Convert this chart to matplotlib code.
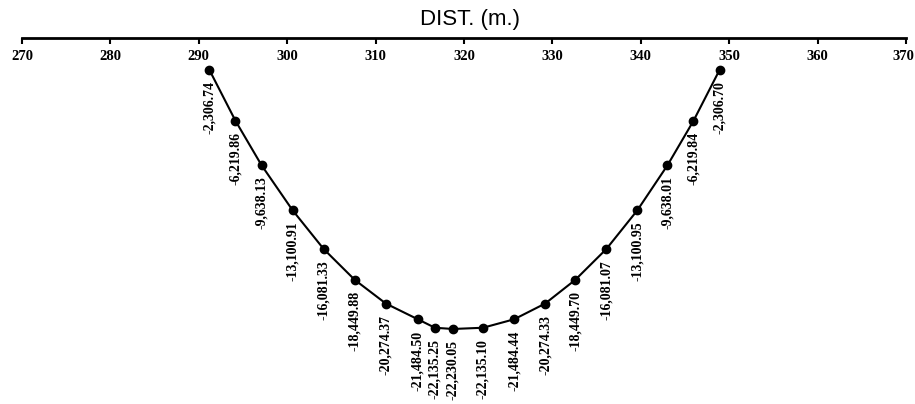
import matplotlib
matplotlib.use('Agg')
import matplotlib.pyplot as plt
from matplotlib.transforms import ScaledTranslation

# stations along the span (m) and ordinate values
dist = [291.20, 294.15, 297.10, 300.61, 304.13, 307.64, 311.16, 314.78,
        316.71, 318.75, 322.15, 325.67, 329.18, 332.59, 336.10, 339.61,
        343.02, 345.96, 348.91]
vals = [-2306.74, -6219.86, -9638.13, -13100.91, -16081.33, -18449.88,
        -20274.37, -21484.50, -22135.25, -22230.05, -22135.10, -21484.44,
        -20274.33, -18449.70, -16081.07, -13100.95, -9638.01, -6219.84,
        -2306.70]
ticks = list(range(270, 371, 10))

fig = plt.figure(figsize=(9.15, 4.04), dpi=100)
ax = fig.add_axes([22/915, 0.0, (906-22)/915, 1 - 38/404])

ax.plot(dist, vals, color='black', lw=1.5, marker='o', ms=6, zorder=3)

# rotated value labels under each point
for x, v in zip(dist, vals):
    ax.annotate(f'{v:,.2f}', (x, v), xytext=(0, -8), textcoords='offset points',
                rotation=90, ha='center', va='top', fontsize=10,
                family='Liberation Serif', fontweight='bold')

ax.set_xlim(270, 370)
ax.set_ylim(-28000, 150)

# only the top axis is drawn
for s in ['left', 'right', 'bottom']:
    ax.spines[s].set_visible(False)
ax.spines['top'].set_linewidth(2)
ax.xaxis.tick_top()
ax.set_xticks(ticks)
ax.set_xticklabels([str(t) for t in ticks], family='Liberation Serif',
                   fontweight='bold', fontsize=10.5)
ax.tick_params(axis='x', direction='in', length=4, width=1.5, pad=-18)
ax.set_yticks([])

# keep the last tick label inside the figure edge
last = ax.get_xticklabels()[-1]
last.set_transform(last.get_transform() + ScaledTranslation(-3/100, 0, fig.dpi_scale_trans))

fig.text(470/915, 1 - 20/404, 'DIST. (m.)', ha='center', va='center',
         fontsize=16, family='Liberation Sans')

plt.savefig('out.png', dpi=100)
